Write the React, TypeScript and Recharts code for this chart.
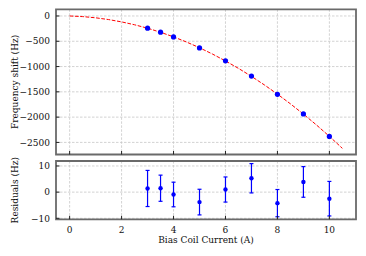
import React from 'react';
import {
  ComposedChart,
  Line,
  Scatter,
  XAxis,
  YAxis,
  CartesianGrid,
  ReferenceArea,
  ErrorBar,
} from 'recharts';

// Fitted curve
const fitCurrent = [0, 0.5, 1, 1.5, 2, 2.5, 3, 3.5, 4, 4.5, 5, 5.5, 6, 6.5, 7, 7.5, 8, 8.5, 9, 9.5, 10, 10.5];
const fitShift = [0, -12, -36, -71, -117, -174, -242, -322, -413, -515, -628, -753, -889, -1036, -1194, -1364, -1545, -1737, -1940, -2154, -2380, -2617];

// Measured points
const current = [3, 3.5, 4, 5, 6, 7, 8, 9, 10];
const shift = [-240.6, -320.4, -413.7, -632.3, -887.7, -1188.8, -1548.7, -1935.8, -2382.5];
const residual = [1.4, 1.5, -0.9, -3.8, 1.0, 5.3, -4.2, 3.9, -2.5];
const residualErr = [6.9, 5.0, 4.7, 4.9, 4.8, 5.6, 5.2, 5.85, 6.6];

// Ticks
const xTicks = [0, 2, 4, 6, 8, 10];
const shiftTicks = [0, -500, -1000, -1500, -2000, -2500];
const residualTicks = [-10, 0, 10];

const xDomain: [number, number] = [-0.525, 11.025];
const shiftDomain: [number, number] = [-2739, 132];
const residualDomain: [number, number] = [-10.38, 11.9];

const fitData = fitCurrent.map((x, i) => ({ x, y: fitShift[i] }));
const pointData = current.map((x, i) => ({ x, y: shift[i] }));
const residualData = current.map((x, i) => ({ x, y: residual[i], err: residualErr[i] }));

const FONT = "'DejaVu Serif', serif";
const tickStyle = { fontSize: 9, fill: '#111', fontFamily: FONT };
const fmt = (v: number) => String(v).replace('-', '\u2212');
const FRAME = '#6a6a6a';
const TICK = '#222';
const BLUE = '#0000ff';
const GRID = '#c8c8c8';

const Dot = (r: number) => (p: any) => <circle cx={p.cx} cy={p.cy} r={r} fill={BLUE} />;
const NoLabel = () => <g />;

export default function App() {
  return (
    <div style={{ position: 'absolute', left: 0, top: 0, width: 366, height: 256, background: '#fff' }}>
      <div style={{ position: 'absolute', left: 0, top: 0 }}>
        <ComposedChart width={366} height={160} margin={{ top: 9.3, right: 10, bottom: 4.5, left: 0 }}>
          <CartesianGrid stroke={GRID} strokeDasharray="2.5 1.5" strokeWidth={0.8} horizontalValues={shiftTicks} verticalValues={xTicks} />
          <XAxis
            type="number"
            dataKey="x"
            domain={xDomain}
            ticks={xTicks}
            allowDataOverflow
            height={1}
            axisLine={false}
            tickSize={-3.5}
            tickLine={{ stroke: TICK, strokeWidth: 1 }}
            tick={NoLabel}
          />
          <YAxis
            type="number"
            dataKey="y"
            domain={shiftDomain}
            ticks={shiftTicks}
            allowDataOverflow
            width={56}
            axisLine={false}
            tickSize={-3.5}
            tickMargin={9.5}
            tickLine={{ stroke: TICK, strokeWidth: 1 }}
            tick={tickStyle}
            tickFormatter={fmt}
            label={{ value: 'Frequency shift (Hz)', angle: -90, position: 'insideLeft', offset: 15, style: { textAnchor: 'middle', fontSize: 9, fontFamily: FONT, fill: '#111' } }}
          />
          <Line
            data={fitData}
            dataKey="y"
            type="linear"
            stroke="#ff0000"
            strokeWidth={1}
            strokeDasharray="3.7 1.6"
            dot={false}
            activeDot={false}
            isAnimationActive={false}
          />
          <Scatter data={pointData} dataKey="y" shape={Dot(2.6)} isAnimationActive={false} />
          <ReferenceArea x1={xDomain[0]} x2={xDomain[1]} y1={shiftDomain[0]} y2={shiftDomain[1]} fill="none" stroke={FRAME} strokeWidth={1.8} fillOpacity={0} />
        </ComposedChart>
      </div>
      <div style={{ position: 'absolute', left: 0, top: 0 }}>
        <ComposedChart width={366} height={256} margin={{ top: 161, right: 10, bottom: 0, left: 0 }}>
          <CartesianGrid stroke={GRID} strokeDasharray="2.5 1.5" strokeWidth={0.8} horizontalValues={residualTicks} verticalValues={xTicks} />
          <XAxis
            type="number"
            dataKey="x"
            domain={xDomain}
            ticks={xTicks}
            allowDataOverflow
            height={36.7}
            axisLine={false}
            tickSize={-3.5}
            tickMargin={10.8}
            tickLine={{ stroke: TICK, strokeWidth: 1 }}
            tick={tickStyle}
            tickFormatter={fmt}
            label={{ value: 'Bias Coil Current (A)', position: 'insideBottom', offset: 13, style: { fontSize: 9, fontFamily: FONT, fill: '#111' } }}
          />
          <YAxis
            type="number"
            dataKey="y"
            domain={residualDomain}
            ticks={residualTicks}
            allowDataOverflow
            width={56}
            axisLine={false}
            tickSize={-3.5}
            tickMargin={9.5}
            tickLine={{ stroke: TICK, strokeWidth: 1 }}
            tick={tickStyle}
            tickFormatter={fmt}
            label={{ value: 'Residuals (Hz)', angle: -90, position: 'insideLeft', offset: 15, style: { textAnchor: 'middle', fontSize: 9, fontFamily: FONT, fill: '#111' } }}
          />
          <Scatter data={residualData} dataKey="y" shape={Dot(2.2)} isAnimationActive={false}>
            <ErrorBar dataKey="err" direction="y" width={2} stroke={BLUE} strokeWidth={1.2} isAnimationActive={false} />
          </Scatter>
          <ReferenceArea x1={xDomain[0]} x2={xDomain[1]} y1={residualDomain[0]} y2={residualDomain[1]} fill="none" stroke={FRAME} strokeWidth={1.8} fillOpacity={0} />
        </ComposedChart>
      </div>
    </div>
  );
}
